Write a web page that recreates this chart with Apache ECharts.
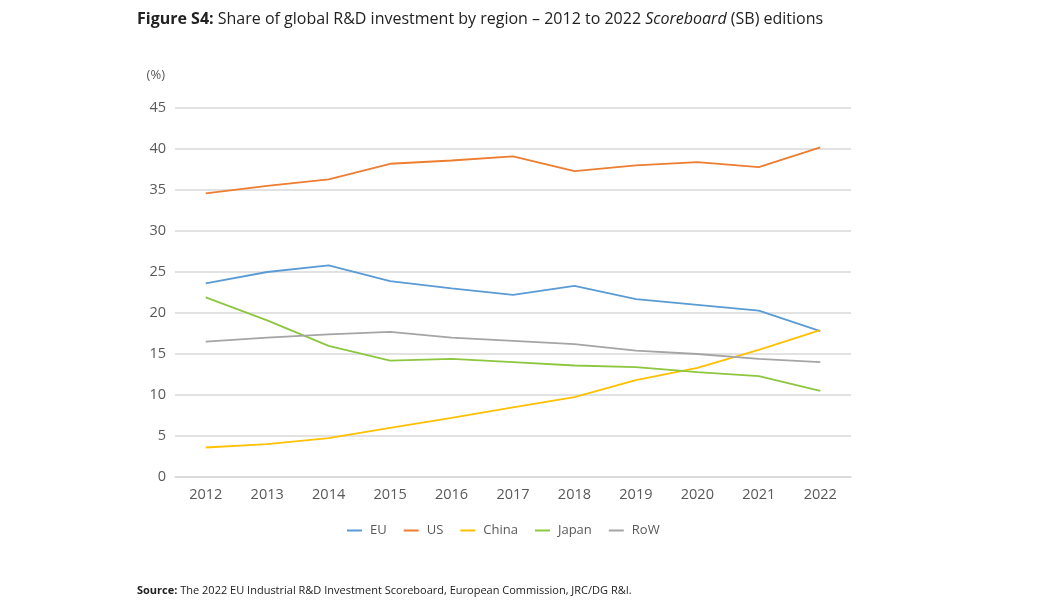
<!DOCTYPE html>
<html><head><meta charset="utf-8">
<script src="https://cdn.jsdelivr.net/npm/echarts@6/dist/echarts.min.js"></script>
<style>html,body{margin:0;padding:0;background:#fff}#c{width:1050px;height:600px}</style>
</head><body><div id="c"></div>
<script>
const years = ['2012','2013','2014','2015','2016','2017','2018','2019','2020','2021','2022'];
const EU    = [23.6, 25.0, 25.8, 23.9, 23.0, 22.2, 23.3, 21.7, 21.0, 20.3, 17.8];
const US    = [34.6, 35.5, 36.3, 38.2, 38.6, 39.1, 37.3, 38.0, 38.4, 37.8, 40.2];
const China = [3.6, 4.0, 4.75, 6.0, 7.2, 8.5, 9.75, 11.8, 13.3, 15.5, 17.9];
const Japan = [21.9, 19.1, 16.0, 14.2, 14.4, 14.0, 13.6, 13.4, 12.8, 12.3, 10.5];
const RoW   = [16.5, 17.0, 17.4, 17.7, 17.0, 16.6, 16.2, 15.4, 15.0, 14.4, 14.0];
const seriesNames = ['EU','US','China','Japan','RoW'];
const seriesData = [EU, US, China, Japan, RoW];
const colors = ['#5B9BD5','#ED7D31','#FFC000','#8DC63F','#A5A5A5'];
const yTicks = [0,5,10,15,20,25,30,35,40,45];
const font = '"Open Sans", "Noto Sans", sans-serif';

const chart = echarts.init(document.getElementById('c'));
chart.setOption({
  animation: false,
  color: colors,
  title: [{
    left: 132, top: 6,
    text: '{b|Figure S4:} Share of global R&D investment by region – 2012 to 2022 {i|Scoreboard} (SB) editions',
    textStyle: { fontFamily: font, fontSize: 16, color: '#222', fontWeight: 'normal',
      rich: { b: { fontFamily: font, fontSize: 16, fontWeight: 'bold', color: '#222' },
              i: { fontFamily: font, fontSize: 16, fontStyle: 'italic', color: '#222' } } }
  }, {
    left: 132, top: 580,
    text: '{b|Source:} The 2022 EU Industrial R&D Investment Scoreboard, European Commission, JRC/DG R&I.',
    textStyle: { fontFamily: font, fontSize: 11, color: '#222', fontWeight: 'normal',
      rich: { b: { fontFamily: font, fontSize: 11, fontWeight: 'bold', color: '#222' } } }
  }],
  grid: { left: 175, right: 199, top: 108, bottom: 123 },
  legend: {
    data: seriesNames, top: 519, left: 342, itemGap: 17,
    icon: 'rect', itemWidth: 15, itemHeight: 2,
    textStyle: { fontFamily: font, fontSize: 13, color: '#595959', padding: [0, 0, 0, 3] }
  },
  xAxis: {
    type: 'category', data: years, boundaryGap: true,
    axisLine: { lineStyle: { color: '#d9d9d9', width: 1.5 } },
    axisTick: { show: false },
    axisLabel: { fontFamily: font, fontSize: 14.5, color: '#595959', margin: 10 }
  },
  yAxis: {
    type: 'value', min: yTicks[0], max: yTicks[yTicks.length-1], interval: 5,
    name: '(%)', nameLocation: 'end', nameGap: 26,
    nameTextStyle: { fontFamily: font, fontSize: 13, color: '#595959', align: 'right', padding: [0, 10, 0, 0] },
    axisLine: { show: false }, axisTick: { show: false },
    splitLine: { lineStyle: { color: '#d9d9d9', width: 1.5 } },
    axisLabel: { fontFamily: font, fontSize: 14.5, color: '#595959', margin: 9 }
  },
  series: seriesNames.map((n, i) => ({
    name: n, type: 'line', data: seriesData[i], symbol: 'none',
    lineStyle: { width: 1.8, color: colors[i] }
  }))
});
</script></body></html>
